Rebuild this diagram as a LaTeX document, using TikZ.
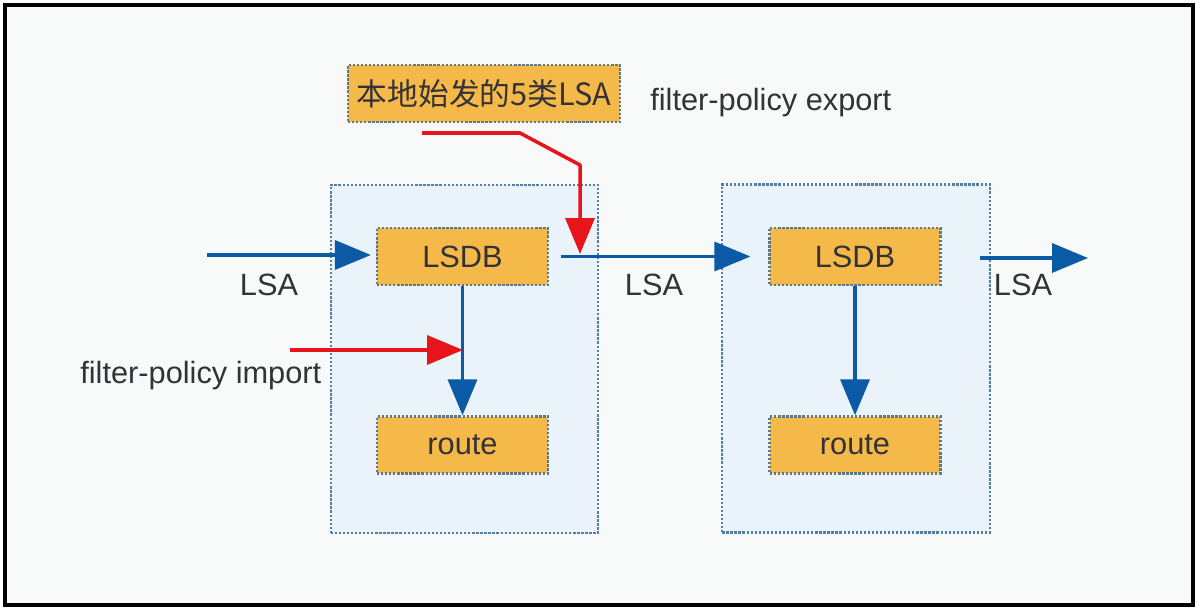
\documentclass[tikz,border=0pt]{standalone}
\usepackage{fontspec}
\setmainfont{Liberation Sans}
\newfontfamily\cjkfont{Noto Sans CJK SC}
\usetikzlibrary{arrows.meta}
\definecolor{framebg}{RGB}{247,250,249}
\definecolor{routerbg}{RGB}{234,243,250}
\definecolor{routerline}{RGB}{80,125,170}
\definecolor{dbfill}{RGB}{245,185,74}
\definecolor{dbline}{RGB}{95,120,130}
\definecolor{lsablue}{RGB}{10,90,165}
\definecolor{policyred}{RGB}{232,20,27}
\definecolor{labeltext}{RGB}{50,50,55}

\begin{document}
\begin{tikzpicture}[x=0.02cm,y=-0.02cm,
  every node/.style={font=\fontsize{17.5}{21}\selectfont,text=labeltext,inner sep=0pt},
  router/.style={draw=routerline,fill=routerbg,densely dotted,line width=1.3pt,
    minimum width=5.35cm,minimum height=6.96cm},
  dbbox/.style={draw=dbline,fill=dbfill,densely dotted,line width=1.3pt,
    minimum width=3.42cm,minimum height=1.14cm},
  lsaflow/.style={draw=lsablue,line width=2pt,-{Triangle[length=0.72cm,width=0.58cm]}},
  policy/.style={draw=policyred,line width=2pt,-{Triangle[length=0.72cm,width=0.58cm]}}]

  \useasboundingbox (0,0) rectangle (1200,611);
  \draw[line width=1.8pt,fill=framebg] (5,5) rectangle (1193,605);

  % two routers
  \node[router] (rtr1) at (464.5,359) {};
  \node[router] (rtr2) at (856,358.5) {};

  \node[dbbox] (lsdb1) at (462.5,256.5) {LSDB};
  \node[dbbox] (route1) at (462.5,445) {route};
  \node[dbbox] (lsdb2) at (855,256.5) {LSDB};
  \node[dbbox] (route2) at (855,445) {route};

  \node[dbbox,minimum width=5.44cm] (src) at (484,93.5) {\cjkfont 本地始发的5类LSA};

  % LSA flow
  \coordinate (lsain) at (207,255);
  \coordinate (lsaout1) at (1088,258);
  \coordinate (lsaout0) at (980,258);
  \draw[lsaflow,shorten >=0.1cm] (lsain) -- (lsain -| lsdb1.west);
  \draw[lsaflow,shorten <=0.24cm,shorten >=0.36cm] (lsdb1.east) -- (lsdb2.west);
  \draw[lsaflow] (lsaout0) -- (lsaout1);
  \draw[lsaflow] (lsdb1.south) -- (route1.north);
  \draw[lsaflow] (lsdb2.south) -- (route2.north);

  \node (lsa1) at (269,285) {LSA};
  \node (lsa2) at (654,285) {LSA};
  \node (lsa3) at (1023,285) {LSA};

  % filter-policy
  \coordinate (impstart) at (290,350);
  \coordinate (impend) at (463,350);
  \draw[policy] (impstart) -- (impend);
  \node[anchor=base west] (imp) at (80,383) {filter-policy import};

  \coordinate (expstart) at (422,133);
  \coordinate (expend) at (580,254);
  \draw[policy,line join=round] (expstart) -- (520,133) -- (580,165) -- (expend);
  \node[anchor=base west] (exp) at (650,111) {filter-policy export};
\end{tikzpicture}
\end{document}
